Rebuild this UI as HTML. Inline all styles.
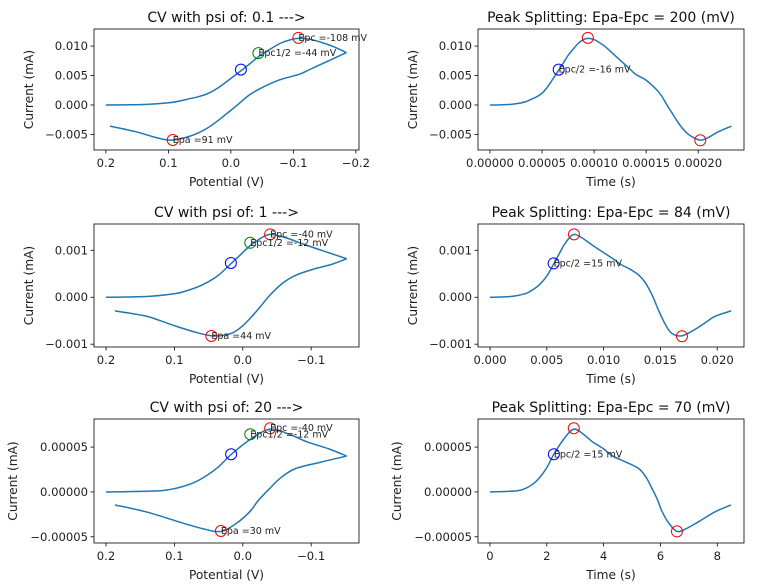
<!DOCTYPE html>
<html><head><meta charset="utf-8">
<style>
html,body{margin:0;padding:0;background:#fff;}
svg{display:block;font-family:"DejaVu Sans","Liberation Sans",sans-serif;}
</style></head>
<body>
<svg id="fig" width="758" height="586" viewBox="0 0 758 586" xmlns="http://www.w3.org/2000/svg"></svg>
<script>
// ---------- Row 1 (psi 0.1) ----------
const time1 = [0,1,2,3,3.5,4,4.5,5,5.5,6,6.6,7,7.5,8,8.5,9,9.4,10,10.5,11,11.7,12.5,13.5,14,15,16,16.5,17,17.5,18,18.5,19,19.5,20.1,20.5,21,22,23.2].map(v=>v*1e-5);
const current1 = [0,0.02,0.1,0.35,0.6,1.0,1.4,2.0,3.0,4.3,5.9,7.0,8.4,9.5,10.5,11.1,11.3,11.1,10.6,10.0,8.9,7.6,6.0,5.2,4.2,2.6,1.5,0.0,-1.4,-2.8,-4.0,-4.9,-5.5,-5.95,-5.9,-5.5,-4.5,-3.6].map(v=>v*1e-3);
const sweep1 = [0.2, -0.185, 11.7e-5]; // start E, switch E, switch time
// ---------- Row 2 (psi 1) ----------
const time2 = [0,1,2,3.14,3.7,4.3,5,5.63,6.1,6.51,7,7.39,8,9,10,10.82,11.5,12.3,13.1,13.7,14.28,14.7,15.16,15.6,16.04,16.78,17.5,18.39,19.2,19.86,21.24].map(v=>v*1e-3);
const current2 = [0,0.005,0.02,0.079,0.15,0.256,0.45,0.72,0.93,1.11,1.27,1.34,1.28,1.11,0.95,0.82,0.7,0.6,0.47,0.3,0.04,-0.2,-0.45,-0.65,-0.775,-0.826,-0.76,-0.634,-0.5,-0.4,-0.29].map(v=>v*1e-3);
const sweep2 = [0.2, -0.152, 10.82e-3];
// ---------- Row 3 (psi 20) ----------
const time3 = [0,0.5,1.0,1.26,1.5,1.73,2.0,2.25,2.6,2.95,3.3,3.6,4.0,4.32,4.8,5.24,5.5,5.7,5.9,6.06,6.3,6.58,6.9,7.35,7.93,8.48];
const current3 = [0,0.05,0.15,0.41,0.85,1.53,2.7,4.2,5.9,7.0,6.4,5.6,4.8,4.0,3.3,2.6,1.6,0.4,-0.9,-2.2,-3.5,-4.4,-4.1,-3.3,-2.2,-1.45].map(v=>v*1e-5);
const sweep3 = [0.2, -0.152, 4.32];

// markers [x, y]
const cvMarkers1 = [[-0.108,0.0114,'red','Epc =-108 mV'],[-0.044,0.0088,'green','Epc1/2 =-44 mV'],[-0.016,0.006,'blue',''],[0.093,-0.00595,'red','Epa =91 mV']];
const cvMarkers2 = [[-0.040,0.00134,'red','Epc =-40 mV'],[-0.011,0.00116,'green','Epc1/2 =-12 mV'],[0.0174,0.00073,'blue',''],[0.046,-0.000826,'red','Epa =44 mV']];
const cvMarkers3 = [[-0.040,0.000071,'red','Epc =-40 mV'],[-0.011,0.0000643,'green','Epc1/2 =-12 mV'],[0.017,0.000042,'blue',''],[0.032,-0.0000435,'red','Epa =30 mV']];
const tMarkers1 = [[9.4e-5,0.0114,'red',''],[6.6e-5,0.0060,'blue','Epc/2 =-16 mV'],[20.2e-5,-0.006,'red','']];
const tMarkers2 = [[7.39e-3,0.00134,'red',''],[5.6e-3,0.00072,'blue','Epc/2 =15 mV'],[16.9e-3,-0.00083,'red','']];
const tMarkers3 = [[2.95,0.000071,'red',''],[2.25,0.000042,'blue','Epc/2 =15 mV'],[6.58,-0.000044,'red','']];

const titles = ['CV with psi of: 0.1 --->','CV with psi of: 1 --->','CV with psi of: 20 --->'];
const titlesR = ['Peak Splitting: Epa-Epc = 200 (mV)','Peak Splitting: Epa-Epc = 84 (mV)','Peak Splitting: Epa-Epc = 70 (mV)'];
const xticksL = [[0.2,0.1,0,-0.1,-0.2],[0.2,0.1,0,-0.1],[0.2,0.1,0,-0.1]];
const xtickLabL = [['0.2','0.1','0.0','\u22120.1','\u22120.2'],['0.2','0.1','0.0','\u22120.1'],['0.2','0.1','0.0','\u22120.1']];
const xticksR = [[0,5e-5,1e-4,1.5e-4,2e-4],[0,0.005,0.01,0.015,0.02],[0,2,4,6,8]];
const xtickLabR = [['0.00000','0.00005','0.00010','0.00015','0.00020'],['0.000','0.005','0.010','0.015','0.020'],['0','2','4','6','8']];
const yticks = [[0.01,0.005,0,-0.005],[0.001,0,-0.001],[0.00005,0,-0.00005]];
const ytickLab = [['0.010','0.005','0.000','\u22120.005'],['0.001','0.000','\u22120.001'],['0.00005','0.00000','\u22120.00005']];

const NS='http://www.w3.org/2000/svg';
const svg=document.getElementById('fig');
function el(tag,attrs,parent){const e=document.createElementNS(NS,tag);for(const k in attrs)e.setAttribute(k,attrs[k]);(parent||svg).appendChild(e);return e;}
function txt(s,attrs,parent){const e=el('text',attrs,parent);e.textContent=s;return e;}

function smoothPath(pts){
  if(pts.length<2)return '';
  let d='M'+pts[0][0].toFixed(2)+','+pts[0][1].toFixed(2);
  for(let i=0;i<pts.length-1;i++){
    const p0=pts[Math.max(0,i-1)],p1=pts[i],p2=pts[i+1],p3=pts[Math.min(pts.length-1,i+2)];
    const c1=[p1[0]+(p2[0]-p0[0])/6,p1[1]+(p2[1]-p0[1])/6];
    const c2=[p2[0]-(p3[0]-p1[0])/6,p2[1]-(p3[1]-p1[1])/6];
    d+='C'+c1[0].toFixed(2)+','+c1[1].toFixed(2)+' '+c2[0].toFixed(2)+','+c2[1].toFixed(2)+' '+p2[0].toFixed(2)+','+p2[1].toFixed(2);
  }
  return d;
}

function panel(o){
  const g=el('g',{});
  
  
  const sx=v=>o.x0+(v-o.xmin)/(o.xmax-o.xmin)*(o.x1-o.x0);
  const sy=v=>o.y1-(v-o.ymin)/(o.ymax-o.ymin)*(o.y1-o.y0);
  o.segments.forEach(seg=>{
    const p=el('path',{d:smoothPath(seg.map(q=>[sx(q[0]),sy(q[1])])),fill:'none',stroke:'#1f77b4','stroke-width':1.5},g);
    
    
  });
  o.markers.forEach(m=>{
    const cx=sx(m[0]),cy=sy(m[1]);
    const c=el('circle',{cx:cx,cy:cy,r:5.5,fill:'none',stroke:m[2],'stroke-width':1},g);
    
    
    if(m[3]){
      const t=txt(m[3],{x:cx,y:cy+3,'font-size':9.5,fill:'#222'},g);
      
      
    }
  });
  const fr=el('rect',{x:o.x0,y:o.y0,width:o.x1-o.x0,height:o.y1-o.y0,fill:'none',stroke:'#000','stroke-width':0.8},g);
  
  
  o.xticks.forEach((v,i)=>{
    const x=sx(v);
    el('line',{x1:x,x2:x,y1:o.y1,y2:o.y1+3.5,stroke:'#000','stroke-width':0.8},g);
    const t=txt(o.xlabs[i],{x:x,y:o.y1+17,'font-size':11.6,'text-anchor':'middle',fill:'#222'},g);
    
    
  });
  o.yticks.forEach((v,i)=>{
    const y=sy(v);
    el('line',{x1:o.x0-3.5,x2:o.x0,y1:y,y2:y,stroke:'#000','stroke-width':0.8},g);
    const t=txt(o.ylabs[i],{x:o.x0-6,y:y+4,'font-size':11.6,'text-anchor':'end',fill:'#222'},g);
    
    
  });
  const ti=txt(o.title,{x:(o.x0+o.x1)/2,y:o.y0-7,'font-size':14,'text-anchor':'middle',fill:'#111'},g);
  
  
  const xl=txt(o.xlabel,{x:(o.x0+o.x1)/2,y:o.y1+36,'font-size':12.2,'text-anchor':'middle',fill:'#222'},g);
  
  
  const yc=(o.y0+o.y1)/2;
  const yl=txt('Current (mA)',{x:o.ylx,y:yc,'font-size':12.2,'text-anchor':'middle',fill:'#222',transform:'rotate(-90 '+o.ylx+' '+yc+')'},g);
  
  
}

function cvSegments(t,c,sw){
  const [E0,Es,ts]=sw;const rate=(E0-Es)/ts;
  const fwd=[],rev=[];
  t.forEach((tv,i)=>{
    if(tv<=ts+1e-15)fwd.push([E0-rate*tv,c[i]]);
    if(tv>=ts-1e-15)rev.push([Es+rate*(tv-ts),c[i]]);
  });
  return [fwd,rev];
}

const rows=[
  {t:time1,c:current1,sw:sweep1,cvm:cvMarkers1,tm:tMarkers1,y0:29,y1:150,xl:[0.219,-0.205],xr:[-0.0000115,0.000244],yd:[-0.00765,0.0129],ylxL:33,ylxR:417},
  {t:time2,c:current2,sw:sweep2,cvm:cvMarkers2,tm:tMarkers2,y0:224,y1:347,xl:[0.2176,-0.170],xr:[-0.00106,0.02236],yd:[-0.00106,0.00156],ylxL:33,ylxR:417},
  {t:time3,c:current3,sw:sweep3,cvm:cvMarkers3,tm:tMarkers3,y0:419,y1:543,xl:[0.2176,-0.170],xr:[-0.42,8.94],yd:[-0.0000569,0.0000813],ylxL:17,ylxR:401}
];
rows.forEach((r,i)=>{
  panel({name:'cv-plot-'+(i+1),x0:94,x1:359,y0:r.y0,y1:r.y1,xmin:r.xl[0],xmax:r.xl[1],ymin:r.yd[0],ymax:r.yd[1],
    segments:cvSegments(r.t,r.c,r.sw),markers:r.cvm,xticks:xticksL[i],xlabs:xtickLabL[i],yticks:yticks[i],ylabs:ytickLab[i],
    title:titles[i],xlabel:'Potential (V)',ylx:r.ylxL});
  panel({name:'time-plot-'+(i+1),x0:478,x1:744,y0:r.y0,y1:r.y1,xmin:r.xr[0],xmax:r.xr[1],ymin:r.yd[0],ymax:r.yd[1],
    segments:[r.t.map((v,k)=>[v,r.c[k]])],markers:r.tm,xticks:xticksR[i],xlabs:xtickLabR[i],yticks:yticks[i],ylabs:ytickLab[i],
    title:titlesR[i],xlabel:'Time (s)',ylx:r.ylxR});
});
</script>
</body></html>
